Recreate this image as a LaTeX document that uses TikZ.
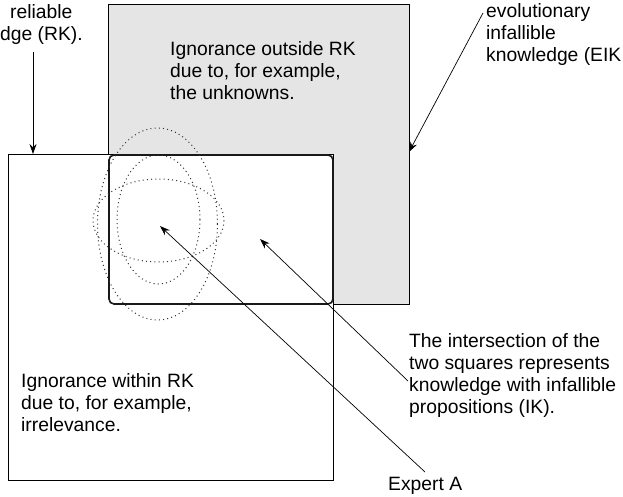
\documentclass[tikz,border=0pt]{standalone}
\usepackage{fontspec}
\setmainfont{Liberation Sans}
\usetikzlibrary{arrows.meta}
\begin{document}
\begin{tikzpicture}[x=1pt,y=-1pt,
  lbl/.style={inner sep=0pt,anchor=north west,align=left,
    font=\fontsize{19.3}{22}\selectfont},
  frame/.style={draw=black,line width=0.8pt},
  overlap/.style={draw=black!90,line width=1.6pt,rounded corners=5pt},
  halo/.style={draw=black!80,line width=1pt,dash pattern=on 1pt off 3.2pt},
  pointer/.style={draw=black,line width=0.7pt,
    -{Stealth[length=10pt,width=7pt]}}]
\useasboundingbox (0,0) rectangle (623,497);
\begin{scope}
\clip (0,0) rectangle (623,497);

% the two squares: evolutionary (grey) and reliable (white)
\path[frame,fill=black!10] (108,4) rectangle (409,304);
\path[frame,fill=white] (8,154) rectangle (333,480);
% their overlap
\path[overlap] (109,155) rectangle (333,304);

% the expert's reach
\path[halo] (157.5,224) ellipse [x radius=60,y radius=96];
\path[halo] (158.5,219.5) ellipse [x radius=41.5,y radius=64.5];
\path[halo] (158.5,220.5) ellipse [x radius=65.5,y radius=41.5];

% labels
\node[lbl] (rk) at (0,4) {\hspace*{10pt}reliable\\dge (RK).};
\node[lbl] (eik) at (486,3.5) {evolutionary\\infallible\\knowledge (EIK};
\node[lbl] (out) at (170,41) {Ignorance outside RK\\due to, for example,\\the unknowns.};
\node[lbl] (ik) at (409,333) {The intersection of the\\two squares represents\\knowledge with infallible\\propositions (IK).};
\node[lbl] (within) at (21,373) {Ignorance within RK\\due to, for example,\\irrelevance.};
\node[lbl] (expert) at (388,477) {Expert A};

% pointer ends
\coordinate (rkTail) at (33,52);
\coordinate (rkHead) at (33,154);
\coordinate (eikTail) at (483,13);
\coordinate (eikHead) at (409,152);
\coordinate (exTail) at (425,472);
\coordinate (exHead) at (160,226);
\coordinate (ikTail) at (408,381);
\coordinate (ikHead) at (260,239);

\draw[pointer] (rkTail) -- (rkHead);
\draw[pointer] (eikTail) -- (eikHead);
\draw[pointer] (exTail) -- (exHead);
\draw[pointer] (ikTail) -- (ikHead);
\end{scope}
\end{tikzpicture}
\end{document}
